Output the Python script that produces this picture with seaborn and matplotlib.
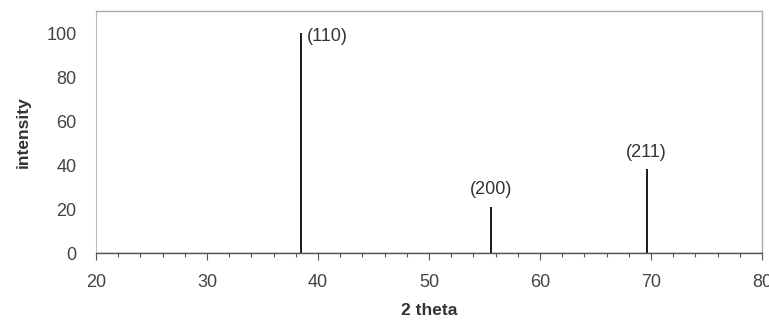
import matplotlib
matplotlib.use("Agg")
import matplotlib.pyplot as plt
import seaborn as sns
import pandas as pd

two_theta = [38.5, 55.6, 69.6]
intensity = [100, 21, 38]
hkl = ["(110)", "(200)", "(211)"]

sns.set_style("white")
plt.rcParams['font.family'] = ['Liberation Sans', 'DejaVu Sans']

df = pd.DataFrame({"2 theta": two_theta, "intensity": intensity, "hkl": hkl})

fig = plt.figure(figsize=(7.69, 3.2), dpi=100)
ax = fig.add_axes([0.1248, 0.209, 0.8662, 0.7566])

ax.vlines(df["2 theta"], 0, df["intensity"], colors="#1a1a1a", linewidth=1.4)
sns.lineplot(x=[20, 80], y=[0, 0], ax=ax, color="#666666", linewidth=1)

ax.set_xlim(20, 80)
ax.set_ylim(0, 110)
ax.set_xticks(range(20, 81, 10))
ax.set_xticks(range(20, 81, 2), minor=True)
ax.set_yticks(range(0, 101, 20))
ax.set_yticks([0], minor=True)

lab_kw = dict(labelsize=13, labelcolor="#444444")
ax.tick_params(axis='x', which='major', direction='out', length=5, width=0.8,
               color="#555555", pad=10, bottom=True, **lab_kw)
ax.tick_params(axis='x', which='minor', direction='out', length=3, width=0.8,
               color="#555555", bottom=True)
ax.tick_params(axis='y', which='major', length=0, pad=14, **lab_kw)
ax.tick_params(axis='y', which='minor', direction='out', length=6, width=0.8,
               color="#555555", left=True)

for s in ["top", "right"]:
    ax.spines[s].set_color("#aaaaaa")
    ax.spines[s].set_linewidth(1)
ax.spines["left"].set_color("#bbbbbb")
ax.spines["left"].set_linewidth(0.8)
ax.spines["bottom"].set_color("#555555")
ax.spines["bottom"].set_linewidth(1)

ax.set_xlabel("2 theta", fontsize=12.5, fontweight="bold", color="#333333", labelpad=9)
ax.set_ylabel("intensity", fontsize=12.5, fontweight="bold", color="#333333", labelpad=11)

for x, y, t in zip(df["2 theta"], df["intensity"], df["hkl"]):
    if y > 90:
        ax.text(x + 0.5, y - 1.5, t, ha="left", va="center", fontsize=13, color="#333333")
    else:
        ax.text(x, y + 4, t, ha="center", va="bottom", fontsize=13, color="#333333")

fig.savefig("out.png", dpi=100)
